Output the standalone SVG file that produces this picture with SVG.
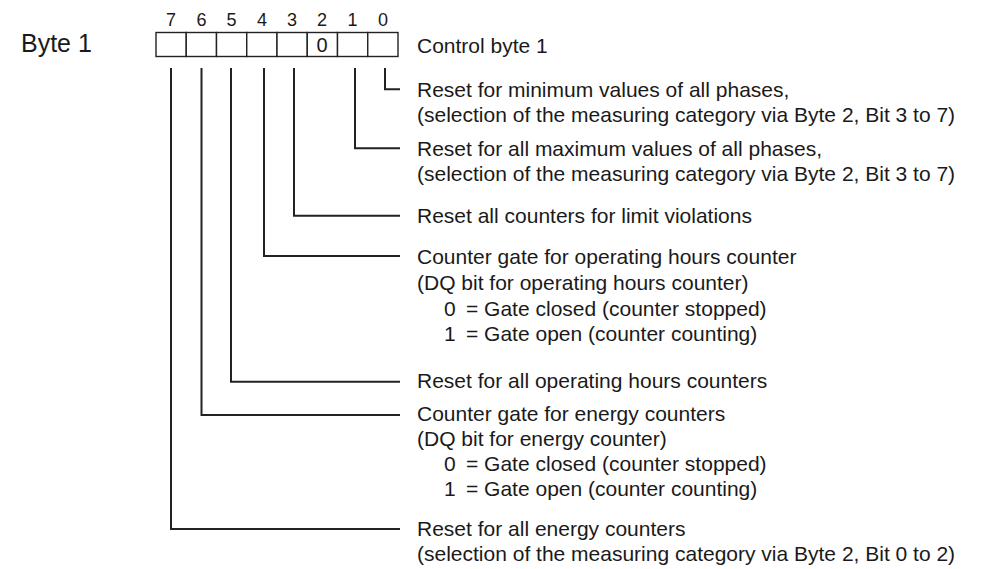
<svg xmlns="http://www.w3.org/2000/svg" width="982" height="569" viewBox="0 0 982 569">
<style>
.t{font-family:"Liberation Sans",Arial,sans-serif;font-size:21px;fill:#1a1a1a}
.big{font-family:"Liberation Sans",Arial,sans-serif;font-size:25px;fill:#1a1a1a}
.bit{font-family:"Liberation Sans",Arial,sans-serif;font-size:18px;fill:#1a1a1a;text-anchor:middle}
.cell{fill:#fff;stroke:#222;stroke-width:1.4}
.con{fill:none;stroke:#222;stroke-width:2}
</style>
<rect width="982" height="569" fill="#fff"/>
<g id="byte-label"><text class="big" x="21" y="52">Byte 1</text></g>
<g id="bit-numbers">
<text class="bit" x="171" y="26">7</text>
<text class="bit" x="201.5" y="26">6</text>
<text class="bit" x="231.5" y="26">5</text>
<text class="bit" x="262" y="26">4</text>
<text class="bit" x="292" y="26">3</text>
<text class="bit" x="322" y="26">2</text>
<text class="bit" x="352.5" y="26">1</text>
<text class="bit" x="383" y="26">0</text>
</g>
<g id="register">
<rect class="cell" x="156" y="32.5" width="30.25" height="24"/>
<rect class="cell" x="186.25" y="32.5" width="30.25" height="24"/>
<rect class="cell" x="216.5" y="32.5" width="30.25" height="24"/>
<rect class="cell" x="246.75" y="32.5" width="30.25" height="24"/>
<rect class="cell" x="277" y="32.5" width="30.25" height="24"/>
<rect class="cell" x="307.25" y="32.5" width="30.25" height="24"/>
<rect class="cell" x="337.5" y="32.5" width="30.25" height="24"/>
<rect class="cell" x="367.75" y="32.5" width="30.25" height="24"/>
<text class="bit" x="322" y="52" style="font-size:20px">0</text>
</g>
<g id="connectors">
<path class="con" d="M385 68V89.3H400"/>
<path class="con" d="M355 68V148.3H400"/>
<path class="con" d="M294 68V215.7H400"/>
<path class="con" d="M264 68V256H400"/>
<path class="con" d="M231 68V381.7H400"/>
<path class="con" d="M201.5 68V415H400"/>
<path class="con" d="M171 68V529H400"/>
</g>
<g id="desc-control"><text class="t" x="417" y="53">Control byte 1</text></g>
<g id="desc-bit0">
<text class="t" x="417" y="97">Reset for minimum values of all phases,</text>
<text class="t" x="417" y="122">(selection of the measuring category via Byte 2, Bit 3 to 7)</text>
</g>
<g id="desc-bit1">
<text class="t" x="417" y="156">Reset for all maximum values of all phases,</text>
<text class="t" x="417" y="181">(selection of the measuring category via Byte 2, Bit 3 to 7)</text>
</g>
<g id="desc-bit3"><text class="t" x="417" y="223">Reset all counters for limit violations</text></g>
<g id="desc-bit4">
<text class="t" x="417" y="264">Counter gate for operating hours counter</text>
<text class="t" x="417" y="290">(DQ bit for operating hours counter)</text>
<text class="t" x="444" y="316">0</text><text class="t" x="466" y="316">= Gate closed (counter stopped)</text>
<text class="t" x="444" y="341">1</text><text class="t" x="466" y="341">= Gate open (counter counting)</text>
</g>
<g id="desc-bit5"><text class="t" x="417" y="388">Reset for all operating hours counters</text></g>
<g id="desc-bit6">
<text class="t" x="417" y="421">Counter gate for energy counters</text>
<text class="t" x="417" y="446">(DQ bit for energy counter)</text>
<text class="t" x="444" y="471">0</text><text class="t" x="466" y="471">= Gate closed (counter stopped)</text>
<text class="t" x="444" y="496">1</text><text class="t" x="466" y="496">= Gate open (counter counting)</text>
</g>
<g id="desc-bit7">
<text class="t" x="417" y="536">Reset for all energy counters</text>
<text class="t" x="417" y="561">(selection of the measuring category via Byte 2, Bit 0 to 2)</text>
</g>
</svg>
